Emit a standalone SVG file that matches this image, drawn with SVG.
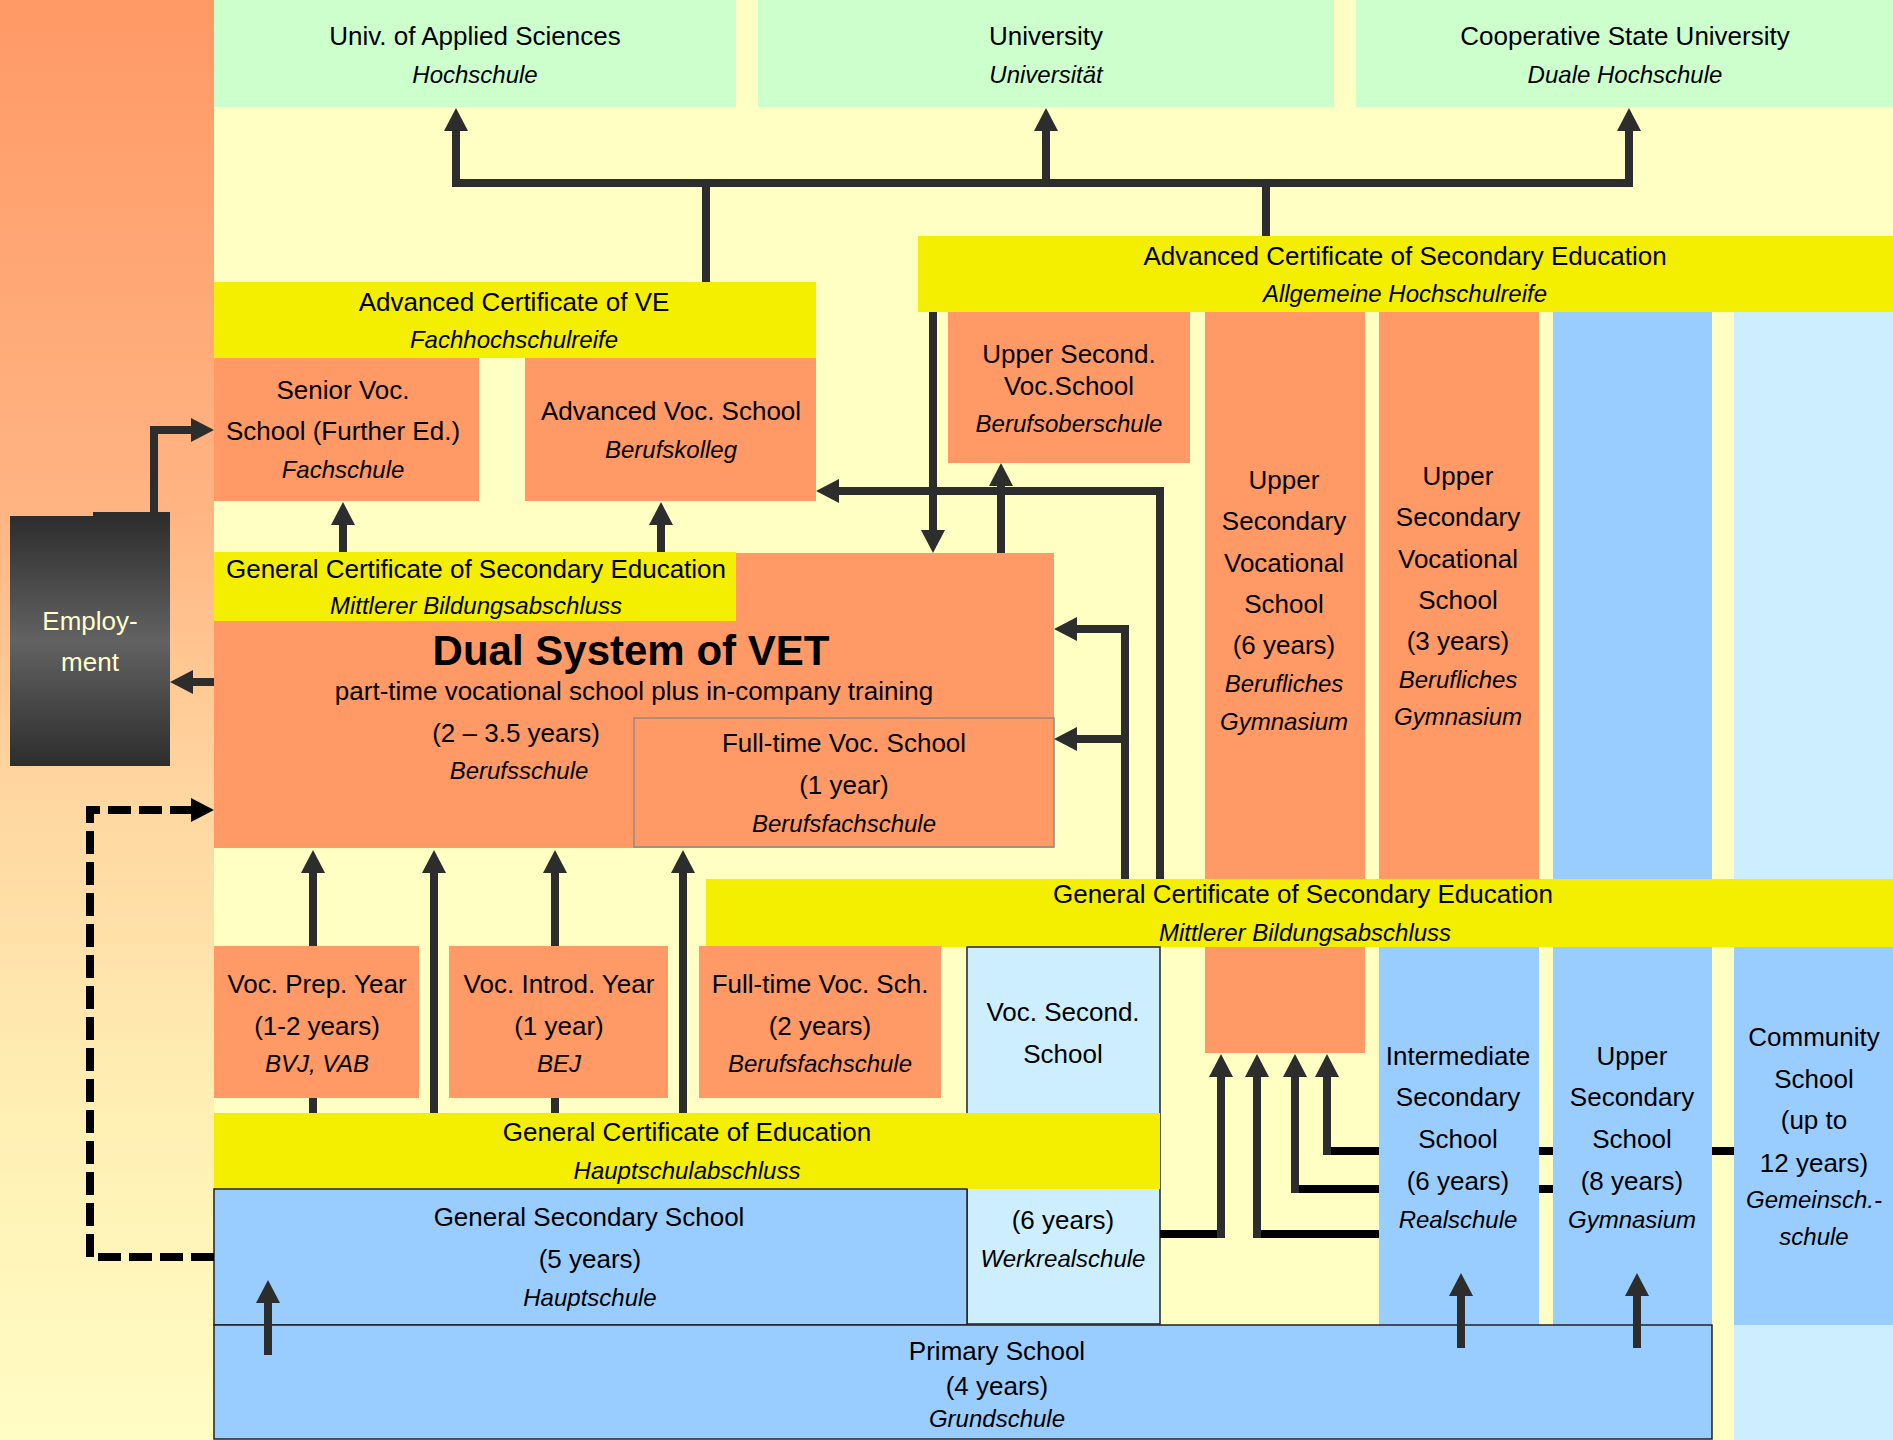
<svg xmlns="http://www.w3.org/2000/svg" width="1893" height="1440" viewBox="0 0 1893 1440">
<style>
.t{font-family:"Liberation Sans",Arial,sans-serif;font-size:26px;fill:#000;text-anchor:middle}
.i{font-style:italic;font-size:24px}
.b{font-weight:bold;font-size:42px}
.w{fill:#ffffcc}
.gr{fill:#ccffcc}
.ye{fill:#f4ee00}
.or{fill:#ff9966}
.bl{fill:#99ccff}
.lb{fill:#cceeff}
.bd{stroke:#222;stroke-width:1.5}
.c{fill:none;stroke:#2d2d2d;stroke-width:8}
.h{fill:none;stroke:#000;stroke-width:8}
.d{fill:none;stroke:#000;stroke-width:8;stroke-dasharray:23 8}
</style>
<defs>
<linearGradient id="lg" x1="0" y1="0" x2="0" y2="1">
<stop offset="0" stop-color="#ff9966"/>
<stop offset="0.35" stop-color="#ffb482"/>
<stop offset="0.55" stop-color="#ffd6a0"/>
<stop offset="0.78" stop-color="#fff0b4"/>
<stop offset="1" stop-color="#fffcc4"/>
</linearGradient>
<linearGradient id="eg" x1="0" y1="0" x2="0" y2="1">
<stop offset="0" stop-color="#2d2d2d"/>
<stop offset="0.5" stop-color="#626262"/>
<stop offset="1" stop-color="#2d2d2d"/>
</linearGradient>
<marker id="ah" viewBox="0 0 23 24" refX="0" refY="12" markerWidth="23" markerHeight="24" markerUnits="userSpaceOnUse" orient="auto"><path d="M0,0 L23,12 L0,24 z" fill="#2d2d2d"/></marker>
<marker id="ak" viewBox="0 0 23 24" refX="0" refY="12" markerWidth="23" markerHeight="24" markerUnits="userSpaceOnUse" orient="auto"><path d="M0,0 L23,12 L0,24 z" fill="#000"/></marker>
</defs>

<g id="background">
<rect x="0" y="0" width="1893" height="1440" fill="#ffffc4"/>
<rect x="0" y="0" width="214" height="1440" fill="url(#lg)"/>
</g>

<g id="n-hochschule">
<rect class="gr" x="214" y="0" width="522" height="107"/>
<text class="t" x="475" y="45">Univ. of Applied Sciences</text>
<text class="t i" x="475" y="83">Hochschule</text>
</g>
<g id="n-universitaet">
<rect class="gr" x="758" y="0" width="576" height="107"/>
<text class="t" x="1046" y="45">University</text>
<text class="t i" x="1046" y="83">Universität</text>
</g>
<g id="n-duale-hochschule">
<rect class="gr" x="1356" y="0" width="537" height="107"/>
<text class="t" x="1625" y="45">Cooperative State University</text>
<text class="t i" x="1625" y="83">Duale Hochschule</text>
</g>

<g id="n-fachhochschulreife">
<rect class="ye" x="214" y="282" width="602" height="76"/>
<text class="t" x="514" y="311">Advanced Certificate of VE</text>
<text class="t i" x="514" y="348">Fachhochschulreife</text>
</g>
<g id="n-fachschule">
<rect class="or" x="214" y="358" width="265" height="143"/>
<text class="t" x="343" y="399">Senior Voc.</text>
<text class="t" x="343" y="440">School (Further Ed.)</text>
<text class="t i" x="343" y="478">Fachschule</text>
</g>
<g id="n-berufskolleg">
<rect class="or" x="525" y="358" width="291" height="143"/>
<text class="t" x="671" y="420">Advanced Voc. School</text>
<text class="t i" x="671" y="458">Berufskolleg</text>
</g>

<g id="n-abitur">
<rect class="ye" x="918" y="236" width="975" height="76"/>
<text class="t" x="1405" y="265">Advanced Certificate of Secondary Education</text>
<text class="t i" x="1405" y="302">Allgemeine Hochschulreife</text>
</g>
<g id="n-berufsoberschule">
<rect class="or" x="948" y="312" width="242" height="151"/>
<text class="t" x="1069" y="363">Upper Second.</text>
<text class="t" x="1069" y="395">Voc.School</text>
<text class="t i" x="1069" y="432">Berufsoberschule</text>
</g>
<g id="n-bg6">
<rect class="or" x="1205" y="312" width="160" height="741"/>
<text class="t" x="1284" y="489">Upper</text>
<text class="t" x="1284" y="530">Secondary</text>
<text class="t" x="1284" y="572">Vocational</text>
<text class="t" x="1284" y="613">School</text>
<text class="t" x="1284" y="654">(6 years)</text>
<text class="t i" x="1284" y="692">Berufliches</text>
<text class="t i" x="1284" y="730">Gymnasium</text>
</g>
<g id="n-bg3">
<rect class="or" x="1379" y="312" width="160" height="567"/>
<text class="t" x="1458" y="485">Upper</text>
<text class="t" x="1458" y="526">Secondary</text>
<text class="t" x="1458" y="568">Vocational</text>
<text class="t" x="1458" y="609">School</text>
<text class="t" x="1458" y="650">(3 years)</text>
<text class="t i" x="1458" y="688">Berufliches</text>
<text class="t i" x="1458" y="725">Gymnasium</text>
</g>
<g id="n-gymnasium">
<rect class="bl" x="1553" y="312" width="159" height="1013"/>
<text class="t" x="1632" y="1065">Upper</text>
<text class="t" x="1632" y="1106">Secondary</text>
<text class="t" x="1632" y="1148">School</text>
<text class="t" x="1632" y="1190">(8 years)</text>
<text class="t i" x="1632" y="1228">Gymnasium</text>
</g>
<g id="n-gemeinschaftsschule">
<rect class="lb" x="1734" y="312" width="159" height="1128"/>
<rect class="bl" x="1734" y="947" width="159" height="378"/>
<text class="t" x="1814" y="1046">Community</text>
<text class="t" x="1814" y="1088">School</text>
<text class="t" x="1814" y="1129">(up to</text>
<text class="t" x="1814" y="1172">12 years)</text>
<text class="t i" x="1814" y="1208">Gemeinsch.-</text>
<text class="t i" x="1814" y="1245">schule</text>
</g>

<g id="n-dual-system">
<rect class="or" x="214" y="553" width="840" height="295"/>
<text class="t b" x="631" y="665">Dual System of VET</text>
<text class="t" x="634" y="700">part-time vocational school plus in-company training</text>
<text class="t" x="516" y="742">(2 – 3.5 years)</text>
<text class="t i" x="519" y="779">Berufsschule</text>
</g>
<g id="n-msa-upper">
<rect class="ye" x="214" y="552" width="522" height="69"/>
<text class="t" x="476" y="578">General Certificate of Secondary Education</text>
<text class="t i" x="476" y="614">Mittlerer Bildungsabschluss</text>
</g>
<g id="n-berufsfachschule-1">
<rect class="or" x="634" y="718" width="420" height="129" stroke="#8c8c8c" stroke-width="1.5"/>
<text class="t" x="844" y="752">Full-time Voc. School</text>
<text class="t" x="844" y="794">(1 year)</text>
<text class="t i" x="844" y="832">Berufsfachschule</text>
</g>
<g id="n-employment">
<rect x="93" y="512" width="77" height="6" fill="#2d2d2d"/>
<rect x="10" y="516" width="160" height="250" fill="url(#eg)"/>
<text class="t w" x="90" y="630">Employ-</text>
<text class="t w" x="90" y="671">ment</text>
</g>

<g id="n-msa-lower">
<rect class="ye" x="706" y="879" width="1187" height="68"/>
<text class="t" x="1303" y="903">General Certificate of Secondary Education</text>
<text class="t i" x="1305" y="941">Mittlerer Bildungsabschluss</text>
</g>
<g id="n-bvj">
<rect class="or" x="214" y="946" width="205" height="152"/>
<text class="t" x="317" y="993">Voc. Prep. Year</text>
<text class="t" x="317" y="1035">(1-2 years)</text>
<text class="t i" x="317" y="1072">BVJ, VAB</text>
</g>
<g id="n-bej">
<rect class="or" x="449" y="946" width="219" height="152"/>
<text class="t" x="559" y="993">Voc. Introd. Year</text>
<text class="t" x="559" y="1035">(1 year)</text>
<text class="t i" x="559" y="1072">BEJ</text>
</g>
<g id="n-berufsfachschule-2">
<rect class="or" x="699" y="946" width="242" height="152"/>
<text class="t" x="820" y="993">Full-time Voc. Sch.</text>
<text class="t" x="820" y="1035">(2 years)</text>
<text class="t i" x="820" y="1072">Berufsfachschule</text>
</g>
<g id="n-werkrealschule">
<rect class="lb bd" x="967" y="947" width="193" height="377"/>
<text class="t" x="1063" y="1021">Voc. Second.</text>
<text class="t" x="1063" y="1063">School</text>
<text class="t" x="1063" y="1229">(6 years)</text>
<text class="t i" x="1063" y="1267">Werkrealschule</text>
</g>
<g id="n-hauptschulabschluss">
<rect class="ye" x="214" y="1113" width="946" height="76"/>
<text class="t" x="687" y="1141">General Certificate of Education</text>
<text class="t i" x="687" y="1179">Hauptschulabschluss</text>
</g>
<g id="n-hauptschule">
<rect class="bl bd" x="214" y="1189" width="753" height="136"/>
<text class="t" x="589" y="1226">General Secondary School</text>
<text class="t" x="590" y="1268">(5 years)</text>
<text class="t i" x="590" y="1306">Hauptschule</text>
</g>
<g id="n-realschule">
<rect class="bl" x="1379" y="947" width="160" height="378"/>
<text class="t" x="1458" y="1065">Intermediate</text>
<text class="t" x="1458" y="1106">Secondary</text>
<text class="t" x="1458" y="1148">School</text>
<text class="t" x="1458" y="1190">(6 years)</text>
<text class="t i" x="1458" y="1228">Realschule</text>
</g>
<g id="n-grundschule">
<rect class="bl bd" x="214" y="1325" width="1498" height="114"/>
<text class="t" x="997" y="1360">Primary School</text>
<text class="t" x="997" y="1395">(4 years)</text>
<text class="t i" x="997" y="1427">Grundschule</text>
</g>

<g id="connectors">
<path class="c" d="M706,282 V183 H456 V131" marker-end="url(#ah)"/>
<path class="c" d="M706,183 H1629 V131" marker-end="url(#ah)"/>
<path class="c" d="M1046,183 V131" marker-end="url(#ah)"/>
<path class="c" d="M1266,236 V183"/>
<path class="c" d="M154,512 V430 H191" marker-end="url(#ah)"/>
<path class="c" d="M214,682 H193" marker-end="url(#ah)"/>
<path class="d" d="M214,1257 H90 V810 H191" marker-end="url(#ak)"/>
<path class="c" d="M343,552 V525" marker-end="url(#ah)"/>
<path class="c" d="M661,552 V525" marker-end="url(#ah)"/>
<path class="c" d="M933,312 V530" marker-end="url(#ah)"/>
<path class="c" d="M1001,553 V486" marker-end="url(#ah)"/>
<path class="c" d="M1160,879 V491 H839" marker-end="url(#ah)"/>
<path class="c" d="M1125,879 V629 H1077" marker-end="url(#ah)"/>
<path class="c" d="M1125,739 H1077" marker-end="url(#ah)"/>
<path class="c" d="M313,1113 V1098"/>
<path class="c" d="M313,946 V873" marker-end="url(#ah)"/>
<path class="c" d="M434,1113 V873" marker-end="url(#ah)"/>
<path class="c" d="M555,1113 V1098"/>
<path class="c" d="M555,946 V873" marker-end="url(#ah)"/>
<path class="c" d="M683,1113 V873" marker-end="url(#ah)"/>
<path class="h" d="M1160,1234 H1221"/>
<path class="h" d="M1379,1234 H1257"/>
<path class="h" d="M1379,1189 H1295"/>
<path class="h" d="M1539,1189 H1553"/>
<path class="h" d="M1379,1151 H1327"/>
<path class="h" d="M1539,1151 H1553"/>
<path class="h" d="M1712,1151 H1734"/>
<path class="c" d="M1221,1238 V1077" marker-end="url(#ah)"/>
<path class="c" d="M1257,1238 V1077" marker-end="url(#ah)"/>
<path class="c" d="M1295,1193 V1077" marker-end="url(#ah)"/>
<path class="c" d="M1327,1155 V1077" marker-end="url(#ah)"/>
<path class="c" d="M268,1355 V1303" marker-end="url(#ah)"/>
<path class="c" d="M1461,1348 V1296" marker-end="url(#ah)"/>
<path class="c" d="M1637,1348 V1296" marker-end="url(#ah)"/>
</g>
</svg>
